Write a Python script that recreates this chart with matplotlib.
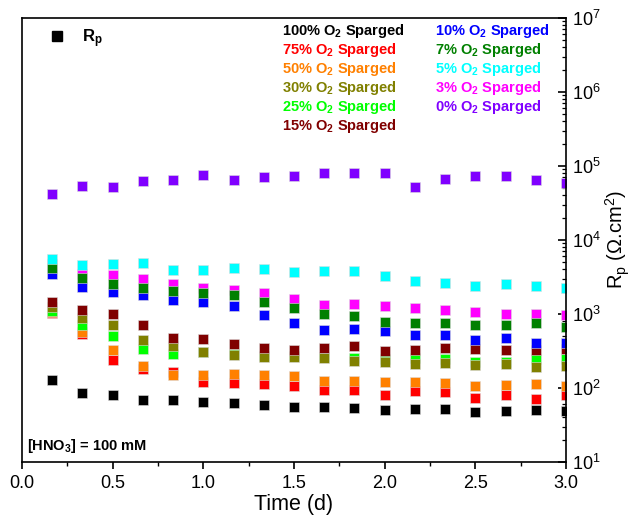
import matplotlib
matplotlib.use("Agg")
import matplotlib.pyplot as plt
from matplotlib.lines import Line2D
from matplotlib.ticker import LogLocator, MultipleLocator

plt.rcParams["font.family"] = ["Liberation Sans", "DejaVu Sans"]
plt.rcParams["mathtext.fontset"] = "custom"
plt.rcParams["mathtext.rm"] = "Liberation Sans"
plt.rcParams["mathtext.bf"] = "Liberation Sans:bold"
plt.rcParams["mathtext.it"] = "Liberation Sans:italic"

# time points (days), every 4 h
time_d = [k / 6 for k in range(1, 19)]

rp_100 = [127, 86, 80, 68, 69, 65, 62.5, 58.8, 55, 56, 53.5, 51, 52, 52, 48, 48.6, 50, 49]
rp_75 = [1020, 545, 240, 183, 163, 119, 118, 112, 105, 95, 95, 81, 91, 88, 73.8, 81, 71, 81]
rp_50 = [1050, 575, 330, 200, 151, 150, 155, 148, 144, 126, 126, 119, 119, 118, 107, 109, 114, 107]
rp_30 = [1250, 873, 700, 450, 365, 302, 280, 263, 263, 253, 232, 225, 214, 216, 203, 209, 193, 198]
rp_25 = [1110, 708, 505, 341, 285, 310, 290, 270, 270, 262, 253, 245, 253, 243, 227, 227, 250, 250]
rp_15 = [1470, 1140, 990, 708, 470, 457, 395, 352, 330, 345, 372, 320, 330, 345, 337, 326, 323, 341]
rp_10 = [3450, 2340, 2000, 1805, 1545, 1450, 1280, 960, 753, 606, 625, 585, 523, 513, 443, 470, 408, 410]
rp_7 = [4200, 3040, 2520, 2240, 2060, 1900, 1805, 1466, 1210, 1000, 930, 786, 745, 745, 708, 708, 760, 670]
rp_5 = [5500, 4650, 4800, 4850, 3900, 3940, 4150, 4070, 3740, 3800, 3800, 3240, 2760, 2660, 2400, 2560, 2400, 2280]
rp_3 = [4800, 3500, 3340, 2950, 2520, 2270, 2100, 1940, 1580, 1320, 1350, 1270, 1220, 1130, 1075, 1000, 1010, 960]
rp_0 = [42300, 53000, 52700, 62000, 65500, 76500, 65500, 71000, 73000, 80500, 81000, 80000,
        51500, 67600, 72600, 72600, 65500, 59000]

labels = ["100%", "75%", "50%", "30%", "25%", "15%", "10%", "7%", "5%", "3%", "0%"]
series = [rp_100, rp_75, rp_50, rp_30, rp_25, rp_15, rp_10, rp_7, rp_5, rp_3, rp_0]
colors = ["#000000", "#ff0000", "#ff8000", "#808000", "#00ff00", "#800000",
          "#0000ff", "#008000", "#00ffff", "#ff00ff", "#8000ff"]
draw_order = [0, 1, 2, 4, 3, 5, 9, 6, 7, 8, 10]

fig = plt.figure(figsize=(6.34, 5.17), dpi=100)
ax = fig.add_axes([22 / 634, 1 - 462 / 517, 544 / 634, 444 / 517])

for i in draw_order:
    ax.plot(time_d, series[i], ls="none", marker="s", ms=6.5, mew=0.4,
            mec="#dddddd", color=colors[i])

ax.set_yscale("log")
ax.set_xlim(0, 3.0)
ax.set_ylim(10, 1e7)

ax.xaxis.set_major_locator(MultipleLocator(0.5))
ax.xaxis.set_minor_locator(MultipleLocator(0.25))
ax.xaxis.set_major_formatter(matplotlib.ticker.FormatStrFormatter("%.1f"))
ax.yaxis.set_major_locator(LogLocator(base=10, numticks=10))
ax.yaxis.set_minor_locator(LogLocator(base=10, subs=range(2, 10), numticks=20))
ax.yaxis.set_minor_formatter(matplotlib.ticker.NullFormatter())
ax.yaxis.tick_right()
ax.yaxis.set_label_position("right")
ax.tick_params(axis="x", which="major", direction="out", length=5, width=1.2,
               labelsize=13, pad=4)
ax.tick_params(axis="x", which="minor", direction="out", length=3, width=1.0)
ax.tick_params(axis="y", which="major", direction="in", length=6, width=1.2,
               labelsize=13, pad=4)
ax.tick_params(axis="y", which="minor", direction="in", length=3, width=0.9)
ax.xaxis.get_offset_text().set_visible(False)
for sp in ax.spines.values():
    sp.set_linewidth(1.2)

ax.set_xlabel("Time (d)", fontsize=15.5, labelpad=2)
ax.set_ylabel(r"R$_\mathrm{p}$ ($\Omega$.cm$^2$)", fontsize=14.5, labelpad=2)

# label block for the series
def to_axes(px, py):
    return (px - 22) / 544, (462 - py) / 444

for n, lab in enumerate(labels):
    col, row = divmod(n, 6)
    px = 282 if col == 0 else 435
    py = 31 + 19 * row
    x, y = to_axes(px, py)
    ax.text(x, y, lab + r" O$_\mathbf{2}$ Sparged", transform=ax.transAxes,
            color=colors[n], fontsize=10.5, fontweight="bold", va="center", ha="left")

handle = Line2D([], [], ls="none", marker="s", ms=7, color="k")
ax.legend([handle], [r"$\mathbf{R_p}$"], loc="upper left", frameon=False,
          bbox_to_anchor=to_axes(25, 12), handletextpad=0.5, prop={"size": 12, "weight": "bold"})

x, y = to_axes(27, 446)
ax.text(x, y, r"[HNO$_\mathbf{3}$] = 100 mM", transform=ax.transAxes,
        fontsize=10.5, fontweight="bold", va="center", ha="left")

fig.savefig("out.png", dpi=100)
